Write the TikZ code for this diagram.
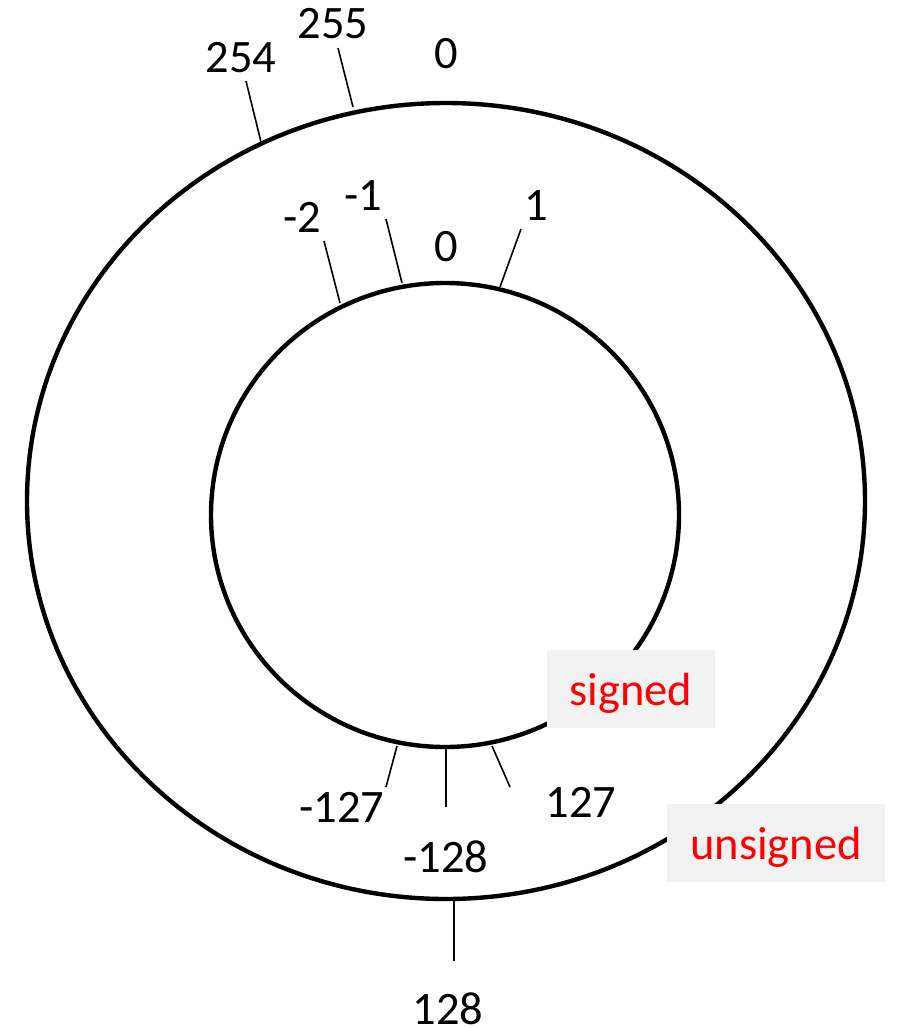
\documentclass[tikz,border=0pt]{standalone}
\usepackage{fontspec}
\setmainfont{Carlito}
\definecolor{boxgray}{HTML}{F2F2F2}
\begin{document}
\begin{tikzpicture}[x=1pt, y=-1pt,
    lbl/.style={anchor=base, inner sep=0pt, font=\fontsize{46.5}{56}\selectfont},
    tick/.style={line width=1.6pt},
    tag/.style={fill=boxgray, text=red, inner sep=0pt, minimum height=78pt,
      text height=32pt, text depth=0pt, font=\fontsize{46.5}{56}\selectfont}]
        \useasboundingbox (0, 0) rectangle (902, 1028); %
        \draw[line width=4.4pt] (446, 501) ellipse [x radius=419pt, y
        radius=398pt]; %
        \draw[line width=4.4pt] (445, 515) ellipse [x radius=234pt, y
        radius=232pt]; %
        % outer ring ticks
        \draw[tick] (246, 81) -- (261, 142); %
        \draw[tick] (338, 48) -- (353, 107); %
        \draw[tick] (454, 900) -- (454, 961); %
        \node[lbl] (u254) at (241, 72) {254};
        \node[lbl] (u255) at (333, 38) {255};
        \node[lbl] (u0) at (446, 68) {0};
        \node[lbl] (u128) at (448, 1024) {128};
        % inner ring ticks
        \draw[tick] (324, 241) -- (340, 303); %
        \draw[tick] (386, 219) -- (402, 283); %
        \draw[tick] (521, 229) -- (500, 287); %
        \draw[tick] (397, 746) -- (386, 787); %
        \draw[tick] (446, 749) -- (446, 807); %
        \draw[tick] (492, 746) -- (510, 787); %
        \node[lbl] (sm2) at (302, 232) {-2};
        \node[lbl] (sm1) at (363, 210) {-1};
        \node[lbl] (s0) at (446, 261) {0};
        \node[lbl] (s1) at (536, 220) {1};
        \node[lbl] (sm127) at (342, 822) {-127};
        \node[lbl] (s127) at (581, 817) {127};
        \node[lbl] (sm128) at (446, 872) {-128};
        % ring names
        \node[tag, minimum width=168pt] (signed) at (631, 689) {signed};
        \node[tag, minimum width=218pt] (unsigned) at (776, 843)
        {unsigned};
      \end{tikzpicture}
\end{document}
